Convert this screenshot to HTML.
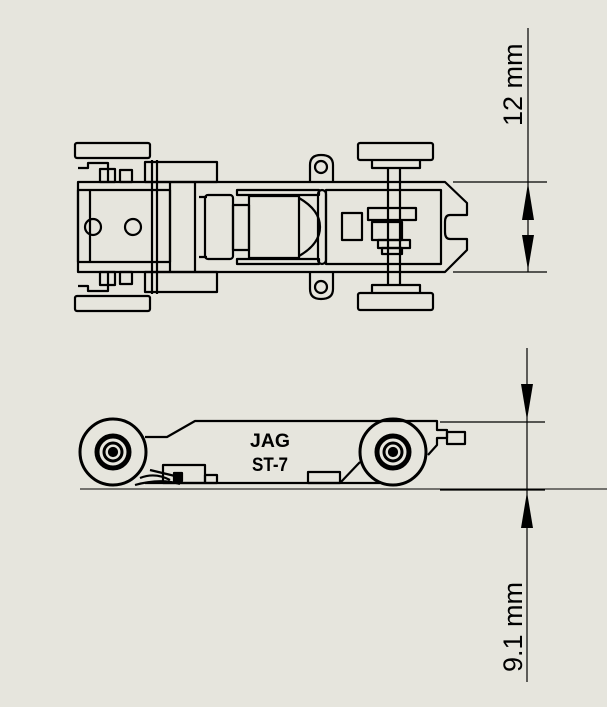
<!DOCTYPE html>
<html><head><style>
html,body{margin:0;padding:0;background:#e6e5dd;}
svg{display:block;}
text{font-family:"Liberation Sans",sans-serif;}
</style></head><body>
<svg width="607" height="707" viewBox="0 0 607 707" xmlns="http://www.w3.org/2000/svg">
<rect width="607" height="707" fill="#e6e5dd"/>
<g fill="none" stroke="#000" stroke-width="1.2">
<line x1="528" y1="28" x2="528" y2="272"/>
<line x1="453" y1="182" x2="547" y2="182"/>
<line x1="453" y1="272" x2="547" y2="272"/>
<line x1="527" y1="348" x2="527" y2="682"/>
<line x1="440" y1="422" x2="545" y2="422"/>
<line x1="440" y1="490" x2="545" y2="490"/>
</g>
<g fill="#000">
<polygon points="528,183 522,220 534,220"/>
<polygon points="528,270 522,235 534,235"/>
<polygon points="527,420 521,384 533,384"/>
<polygon points="527,492 521,528 533,528"/>
</g>
<text transform="translate(522,126) rotate(-90)" font-size="27">12 mm</text>
<text transform="translate(522,672) rotate(-90)" font-size="27">9.1 mm</text>

<g fill="none" stroke="#000" stroke-width="2.2" stroke-linejoin="round">
<rect x="75" y="143" width="75" height="15" rx="2"/>
<rect x="75" y="296" width="75" height="15" rx="2"/>
<rect x="358" y="143" width="75" height="17" rx="2"/>
<rect x="358" y="293" width="75" height="17" rx="2"/>
<path d="M372 160 v8 h48 v-8 M372 293 v-8 h48 v8"/>
<line x1="388" y1="168" x2="388" y2="285"/><line x1="400" y1="168" x2="400" y2="285"/>
<path d="M78 182 H445 L467 203 V215 H450 Q445 215 445 222 V232 Q445 239 450 239 H467 V250 L445 272 H78 Z"/>
<line x1="90" y1="190" x2="90" y2="262"/>
<rect x="78" y="190" width="92" height="72"/>
<circle cx="93" cy="227" r="8"/><circle cx="133" cy="227" r="8"/>
<path d="M78 168 h10 v-5 h20 v19 M78 286 h10 v5 h20 v-19"/>
<rect x="100" y="169" width="15" height="13"/><rect x="100" y="272" width="15" height="13"/>
<rect x="120" y="170" width="12" height="12"/><rect x="120" y="272" width="12" height="12"/>
<rect x="145" y="162" width="72" height="20"/><rect x="145" y="272" width="72" height="20"/>
<line x1="152" y1="160" x2="152" y2="294"/><line x1="157" y1="160" x2="157" y2="294"/>
<line x1="170" y1="182" x2="170" y2="272"/><line x1="195" y1="182" x2="195" y2="272"/>
<rect x="205" y="195" width="28" height="64" rx="3"/>
<path d="M199 197 h8 M199 257 h8"/>
<rect x="233" y="205" width="16" height="45"/>
<rect x="237" y="190" width="82" height="5"/><rect x="237" y="259" width="82" height="5"/>
<rect x="249" y="196" width="50" height="62"/>
<path d="M299 198 Q320 210 320 227 Q320 244 299 256"/>
<rect x="318" y="190" width="8" height="74" rx="4"/>
<rect x="326" y="190" width="115" height="74"/>
<path d="M310 182 V165 Q310 155 321 155 Q333 155 333 165 V182"/>
<circle cx="321" cy="167" r="6"/>
<path d="M310 272 V289 Q310 299 321 299 Q333 299 333 289 V272"/>
<circle cx="321" cy="287" r="6"/>
<rect x="342" y="213" width="20" height="27"/>
<rect x="368" y="208" width="48" height="12"/>
<rect x="372" y="222" width="30" height="18"/>
<rect x="378" y="240" width="32" height="8"/>
<rect x="382" y="248" width="20" height="6"/>
</g>

<g fill="none" stroke="#000" stroke-width="2.2" stroke-linejoin="round">
<path d="M145 437 H167 L195 421 H437 V430 H447 V438 H437 V445 L428 455"/>
<rect x="447" y="432" width="18" height="12"/>
<line x1="145" y1="483" x2="380" y2="483"/>
<line x1="80" y1="489" x2="607" y2="489" stroke-width="1"/>
<circle cx="113" cy="452" r="33" stroke-width="3"/>
<circle cx="113" cy="452" r="16" stroke-width="5"/>
<circle cx="113" cy="452" r="9" stroke-width="3"/>
<circle cx="113" cy="452" r="4" fill="#000"/>
<circle cx="393" cy="452" r="33" stroke-width="3"/>
<circle cx="393" cy="452" r="16" stroke-width="5"/>
<circle cx="393" cy="452" r="9" stroke-width="3"/>
<circle cx="393" cy="452" r="4" fill="#000"/>
<rect x="163" y="465" width="42" height="18"/>
<rect x="205" y="475" width="12" height="8"/>
<rect x="308" y="472" width="32" height="11"/>
<path d="M340 483 L360 462"/>
<path d="M140 478 Q155 472 170 480 M135 485 Q160 478 180 484 M150 470 L175 476"/>
<rect x="174" y="473" width="8" height="8" fill="#000"/>
</g>
<text x="270" y="447" font-size="19" font-weight="bold" text-anchor="middle" textLength="40" lengthAdjust="spacingAndGlyphs">JAG</text>
<text x="270" y="471" font-size="19" font-weight="bold" text-anchor="middle" textLength="36" lengthAdjust="spacingAndGlyphs">ST-7</text>
</svg>
</body></html>
